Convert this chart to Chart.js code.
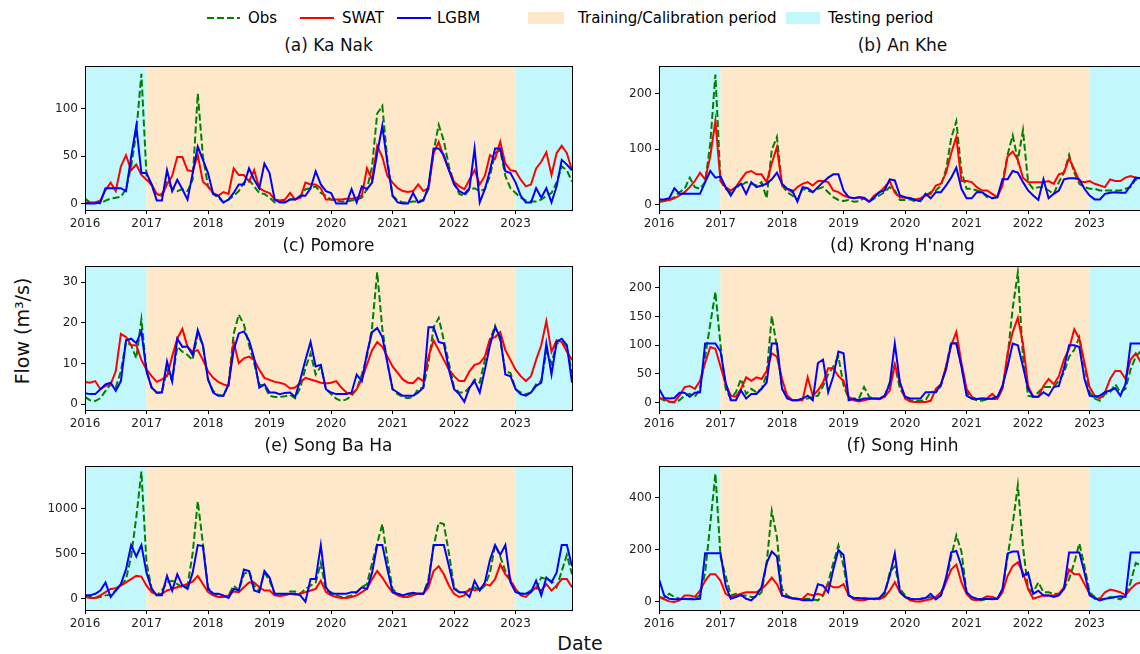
<!DOCTYPE html>
<html>
<head>
<meta charset="utf-8">
<script src="https://cdn.jsdelivr.net/npm/chart.js@4.4.0/dist/chart.umd.min.js"></script>
<style>
html, body { margin: 0; padding: 0; background: #fff; }
body { width: 1140px; height: 654px; overflow: hidden; position: relative; font-family: 'DejaVu Sans', sans-serif; color: #111; }
canvas { position: absolute; }
.title { position: absolute; font-size: 17px; line-height: 20px; transform: translateX(-50%); white-space: nowrap; }
.ylab { position: absolute; left: 22px; top: 331px; font-size: 19px; white-space: nowrap; transform: translate(-50%, -50%) rotate(-90deg); }
.xlab { position: absolute; left: 580px; top: 643px; font-size: 19px; white-space: nowrap; transform: translate(-50%, -50%); }
</style>
</head>
<body>
<svg width="1140" height="36" style="position:absolute;left:0;top:0" font-family="DejaVu Sans" font-size="15">
  <line x1="207" y1="18" x2="240" y2="18" stroke="#008000" stroke-width="2" stroke-dasharray="7,3"/>
  <text x="248" y="23">Obs</text>
  <line x1="300" y1="18" x2="334" y2="18" stroke="#ff0000" stroke-width="2"/>
  <text x="342" y="23">SWAT</text>
  <line x1="397" y1="18" x2="431" y2="18" stroke="#0000ff" stroke-width="2"/>
  <text x="437" y="23">LGBM</text>
  <rect x="528" y="12" width="36" height="12" fill="#fde8c9"/>
  <text x="578" y="23">Training/Calibration period</text>
  <rect x="786" y="12" width="34" height="12" fill="#c2f8fb"/>
  <text x="828" y="23">Testing period</text>
</svg>
<div class="ylab">Flow (m³/s)</div>
<div class="xlab">Date</div>

<script>
// monthly series Jan 2016 - Dec 2023
const firstYear = 2016;
const yearTicks = [2016, 2017, 2018, 2019, 2020, 2021, 2022, 2023];
const trainStart = 2017;
const trainEnd = 2023;

// (a) Ka Nak
const kaNakObs = [5,1,1,0,3,5,6,7,15,39,75,137, 29,18,8,10,22,16,13,15,13,25,116,50,
  18,10,6,1,4,8,13,22,25,18,11,10, 6,1,2,3,4,5,6,15,16,18,11,8,
  4,3,2,2,3,4,6,15,39,95,103,45, 8,3,1,1,2,2,4,15,55,83,66,39,
  22,10,8,15,16,13,15,29,53,56,29,16, 11,6,3,2,2,4,8,11,22,39,35,23];
const kaNakSwat = [1,1,1,3,14,22,13,39,51,35,41,30, 25,20,10,8,20,29,49,49,35,34,51,23,
  18,11,8,12,10,37,30,30,23,35,16,13, 11,4,3,4,11,4,6,22,20,20,16,4,
  4,4,4,5,5,6,8,37,25,61,49,29, 22,16,13,12,13,20,13,16,53,65,49,35,
  23,18,15,25,35,20,29,51,47,65,42,35, 34,25,18,20,37,44,54,30,53,61,53,35];
const kaNakLgbm = [0,0,0,1,16,16,16,16,13,49,82,32, 32,20,3,3,35,13,25,15,4,32,60,46,
  32,10,8,1,4,11,20,20,37,25,16,42, 32,4,1,1,4,4,8,8,16,34,20,13,
  11,0,0,0,15,1,18,15,22,53,82,42, 8,1,0,0,11,1,3,18,58,58,51,35,
  20,13,10,16,58,1,15,35,58,58,34,32, 22,8,1,1,16,6,16,1,18,46,41,35];
const kaNakTicks = [0, 50, 100];

// (b) An Khe
const anKheObs = [6,7,9,14,23,29,49,32,29,41,110,234, 43,29,23,32,35,41,38,35,41,12,99,122,
  35,23,17,9,29,26,23,29,32,23,14,9, 7,9,6,7,12,6,12,17,23,32,26,9,
  9,10,6,9,17,23,26,35,64,120,150,60, 29,29,26,23,14,12,14,41,90,125,80,134,
  41,29,32,32,26,20,41,58,90,58,38,32, 29,29,26,26,26,26,26,29,32,46,45,45];
const anKheSwat = [6,7,9,12,17,23,32,43,58,46,87,151, 43,32,26,32,46,58,61,55,55,41,75,104,
  35,29,23,32,38,41,35,43,43,41,26,23, 17,14,12,14,12,6,17,23,32,43,22,14,
  13,12,10,12,17,20,35,38,58,93,122,43, 43,41,32,26,26,20,14,35,87,96,81,49,
  41,41,41,41,43,38,55,58,84,64,43,41, 43,38,35,32,46,43,43,49,52,49,48,50];
const anKheLgbm = [10,10,12,30,20,20,20,20,20,41,61,49, 51,32,17,32,38,20,41,32,35,38,46,58,
  38,29,26,6,32,30,23,32,41,49,55,55, 26,14,12,14,13,6,14,23,26,46,44,17,
  14,12,9,7,20,12,23,23,35,49,67,29, 12,12,23,23,17,12,14,46,46,61,58,41,
  26,17,9,46,12,20,26,46,48,48,46,29, 17,10,10,20,22,23,22,22,35,49,48,48];
const anKheTicks = [0, 100, 200];

// (c) Pomore
const pomoreObs = [1.8,1.0,0.8,1.5,3.3,4.9,4.1,8.1,15.3,14.5,11.3,20.8, 8.1,4.1,2.8,2.9,8.5,5.7,14.1,12.9,12.1,10.9,17.3,14.5,
  6.1,3.3,2.3,2.1,4.9,17.3,22.0,19.6,14.5,10.1,4.9,4.5, 2.1,1.8,1.8,2.0,2.3,1.5,4.1,8.9,12.5,7.3,9.3,3.7,
  2.5,1.4,0.8,1.2,2.1,3.7,7.3,11.7,18.9,32.4,18.5,10.1, 3.7,2.5,1.8,1.5,1.8,3.7,4.1,10.1,18.9,21.2,15.7,10.1,
  4.1,2.9,2.9,4.1,6.1,5.3,10.9,15.7,19.3,15.7,8.1,7.7, 3.7,2.9,2.5,2.9,4.9,5.7,12.9,10.1,14.9,15.3,14.1,7.7];
const pomoreSwat = [5.5,5.3,5.7,3.7,4.5,4.9,8.1,17.3,16.5,14.5,14.5,10.9, 8.5,6.9,5.5,6.1,6.9,11.7,16.1,18.5,14.1,12.9,13.3,10.9,
  8.1,6.5,5.5,4.9,4.5,15.3,10.1,11.3,11.7,10.9,8.5,6.5, 6.0,5.5,5.3,4.9,3.9,4.1,5.3,6.5,6.1,5.7,5.3,5.1,
  5.3,5.7,4.1,2.9,2.5,3.7,6.1,9.7,13.3,15.3,14.1,11.7, 9.3,7.7,6.1,5.3,5.2,6.5,5.7,11.7,15.7,13.3,10.9,8.5,
  6.9,5.7,5.7,8.1,9.7,10.1,11.7,16.1,16.5,17.7,13.3,10.9, 8.5,6.9,5.7,6.9,10.9,14.5,20.4,12.9,15.7,15.3,12.9,10.9];
const pomoreLgbm = [2.7,2.5,2.5,3.7,4.9,5.3,3.3,5.7,15.7,16.1,15.0,17.9, 8.1,4.1,2.9,2.9,10.5,5.7,16.1,14.1,14.2,12.1,18.2,14.5,
  6.1,2.9,2.1,2.1,4.9,13.3,17.4,17.9,15.7,11.3,4.1,4.9, 2.9,2.9,2.5,2.8,2.9,1.8,6.1,10.9,15.3,9.3,9.7,3.7,
  2.9,2.5,2.5,2.5,2.9,7.3,5.7,12.5,17.7,18.7,16.5,10.1, 3.7,2.9,2.1,2.1,2.1,2.9,4.1,18.9,18.9,15.3,14.9,8.5,
  3.7,2.5,0.6,4.1,5.7,2.9,8.5,14.5,18.9,16.5,7.3,6.9, 3.7,2.5,2.1,2.9,4.5,5.3,14.9,7.3,15.3,16.1,14.5,5.3];
const pomoreTicks = [0, 10, 20, 30];

// (d) Krong H'nang
const krongObs = [8,4,1,0,4,12,15,10,24,80,137,193, 100,24,7,18,41,15,24,18,24,49,151,97,
  24,12,4,4,6,7,10,12,29,49,63,80, 30,7,7,7,27,10,6,6,10,35,66,24,
  10,4,3,3,4,19,18,29,63,106,103,63, 18,7,4,3,6,6,6,24,80,165,227,80,
  12,10,18,27,27,27,38,52,80,92,114,63, 18,7,3,15,18,32,18,24,58,80,90,95];
const krongSwat = [8,6,2,1,12,27,29,24,38,69,97,94, 63,32,12,10,24,44,38,44,41,55,86,80,
  41,12,4,4,4,44,12,21,35,60,60,46, 38,10,4,2,4,6,7,6,10,21,66,35,
  7,2,1,1,1,3,24,32,63,100,123,69, 24,10,6,7,7,15,7,24,86,123,148,103,
  29,10,10,29,41,32,46,75,94,128,111,69, 27,12,7,18,41,55,55,41,75,86,70,60];
const krongLgbm = [24,8,7,8,17,17,10,17,18,103,103,103, 89,35,4,4,21,7,15,15,24,35,103,103,
  24,7,4,4,7,12,4,69,75,18,46,89, 86,4,6,4,7,7,7,7,12,32,103,35,
  10,7,7,7,18,18,18,32,58,103,103,63, 12,7,6,7,6,7,10,29,63,103,100,63,
  24,10,10,18,12,27,29,60,100,100,97,41, 12,10,12,18,21,25,12,32,103,103,103,103];
const krongTicks = [0, 50, 100, 150, 200];

// (e) Song Ba Ha
const songBaHaObs = [18,18,7,18,36,43,90,144,217,469,902,1415, 397,108,36,90,180,199,162,126,144,505,1083,614,
  126,54,36,18,36,144,90,271,307,144,90,289, 199,54,36,43,79,79,54,108,144,180,397,90,
  72,36,18,18,36,72,126,162,397,614,830,433, 108,54,36,36,54,54,54,217,578,848,830,505,
  126,72,72,90,126,90,144,289,600,469,307,217, 90,54,54,90,108,235,217,199,126,307,487,271];
const songBaHaSwat = [18,7,7,36,72,108,116,144,180,217,253,245, 144,72,43,54,90,108,126,144,162,188,253,162,
  72,36,18,18,36,79,72,126,180,180,126,90, 90,36,29,36,54,43,54,72,90,108,199,72,
  36,18,7,7,18,36,72,108,217,307,235,144, 72,36,18,18,36,54,54,126,307,361,271,144,
  54,18,36,108,90,108,162,144,217,379,271,199, 108,36,18,72,126,90,162,90,144,217,217,126];
const songBaHaLgbm = [36,36,54,90,180,18,90,162,325,596,469,596, 289,108,36,36,253,90,271,144,108,289,596,585,
  108,54,54,36,7,108,90,325,307,90,72,307, 235,54,54,54,54,54,36,-36,217,217,596,126,
  54,54,54,54,72,72,126,108,289,596,596,325, 72,54,36,54,65,54,54,180,596,596,596,361,
  108,72,72,18,199,90,180,433,596,487,596,180, 72,54,54,72,199,36,235,180,289,596,596,361];
const songBaHaTicks = [0, 500, 1000];

// (f) Song Hinh
const songHinhObs = [19,15,31,19,12,10,12,12,25,112,298,491, 174,99,25,31,25,25,19,19,37,149,348,248,
  50,25,12,12,10,12,10,6,25,75,149,217, 137,25,12,12,15,12,10,12,25,112,137,50,
  25,12,10,10,15,19,15,25,75,174,255,193, 37,12,6,6,12,12,10,37,174,298,447,211,
  50,37,75,37,37,31,31,50,87,149,224,137, 37,19,12,10,19,15,10,25,75,149,140,100];
const songHinhSwat = [19,10,2,0,6,25,25,19,43,81,106,106, 81,31,19,25,31,37,37,37,50,68,93,68,
  25,19,12,10,12,31,25,31,25,68,56,56, 68,25,10,6,6,12,12,10,19,43,75,37,
  19,6,2,2,6,10,19,37,75,124,143,75, 31,10,6,12,22,19,12,37,99,137,152,112,
  50,12,19,25,25,25,31,56,124,106,106,68, 31,12,12,37,47,43,37,25,50,68,75,75];
const songHinhLgbm = [87,25,12,10,10,12,10,10,12,186,186,186, 186,62,12,19,27,12,6,25,56,149,193,174,
  25,19,15,12,6,6,6,68,62,37,124,199, 180,25,15,15,12,12,12,15,37,99,186,37,
  19,12,10,12,15,31,10,25,93,190,195,137, 37,19,12,10,12,10,12,50,186,193,193,99,
  112,31,43,25,25,19,25,50,189,189,189,112, 25,15,6,12,15,19,22,19,189,189,189,189];
const songHinhTicks = [0, 200, 400];

const trainColor = '#fde8c9';
const testColor = '#c2f8fb';

const plotW = 487, plotH = 148;
const padL = 60, padR = 8, padT = 6, padB = 26;

const panels = [
  { title: '(a) Ka Nak', obs: kaNakObs, swat: kaNakSwat, lgbm: kaNakLgbm, ticks: kaNakTicks, yMin: -7, yMax: 145, left: 85, top: 62 },
  { title: '(b) An Khe', obs: anKheObs, swat: anKheSwat, lgbm: anKheLgbm, ticks: anKheTicks, yMin: -9, yMax: 249, left: 659, top: 62 },
  { title: '(c) Pomore', obs: pomoreObs, swat: pomoreSwat, lgbm: pomoreLgbm, ticks: pomoreTicks, yMin: -1.4, yMax: 33.9, left: 85, top: 262 },
  { title: "(d) Krong H'nang", obs: krongObs, swat: krongSwat, lgbm: krongLgbm, ticks: krongTicks, yMin: -13, yMax: 238, left: 659, top: 262 },
  { title: '(e) Song Ba Ha', obs: songBaHaObs, swat: songBaHaSwat, lgbm: songBaHaLgbm, ticks: songBaHaTicks, yMin: -127, yMax: 1475, left: 85, top: 462 },
  { title: '(f) Song Hinh', obs: songHinhObs, swat: songHinhSwat, lgbm: songHinhLgbm, ticks: songHinhTicks, yMin: -31, yMax: 520, left: 659, top: 462 }
];

Chart.defaults.font.family = "'DejaVu Sans', sans-serif";

// background periods + axes box
const periodShading = {
    id: 'periodShading',
    beforeDatasetsDraw(chart) {
        const { ctx, chartArea: a, scales: { x } } = chart;
        const x1 = x.getPixelForValue(trainStart);
        const x2 = x.getPixelForValue(trainEnd);
        const h = a.bottom - a.top;
        ctx.save();
        ctx.fillStyle = testColor;
        ctx.fillRect(a.left, a.top, x1 - a.left, h);
        ctx.fillStyle = trainColor;
        ctx.fillRect(x1, a.top, x2 - x1, h);
        ctx.fillStyle = testColor;
        ctx.fillRect(x2, a.top, a.right - x2, h);
        ctx.restore();
    },
    afterDatasetsDraw(chart) {
        const { ctx, chartArea: a } = chart;
        ctx.save();
        ctx.strokeStyle = '#000';
        ctx.lineWidth = 1;
        ctx.strokeRect(Math.round(a.left) + 0.5, Math.round(a.top) + 0.5, Math.round(a.right - a.left), Math.round(a.bottom - a.top));
        ctx.restore();
    }
};

function toPoints(values) {
    return values.map((v, i) => ({ x: firstYear + i / 12, y: v }));
}

function makeChart(p) {
    const w = padL + plotW + padR;
    const h = padT + plotH + padB;
    const canvas = document.createElement('canvas');
    canvas.width = w;
    canvas.height = h;
    canvas.style.width = w + 'px';
    canvas.style.height = h + 'px';
    canvas.style.left = (p.left - padL) + 'px';
    canvas.style.top = (p.top - padT) + 'px';
    document.body.appendChild(canvas);

    const title = document.createElement('div');
    title.className = 'title';
    title.textContent = p.title;
    title.style.left = (p.left + plotW / 2) + 'px';
    title.style.top = (p.top - 27) + 'px';
    document.body.appendChild(title);

    const n = p.obs.length;
    new Chart(canvas, {
        type: 'line',
        data: {
            datasets: [
                { label: 'Obs', data: toPoints(p.obs), borderColor: '#008000', borderDash: [7, 3], borderWidth: 2, order: 3 },
                { label: 'SWAT', data: toPoints(p.swat), borderColor: '#ff0000', borderWidth: 2, order: 2 },
                { label: 'LGBM', data: toPoints(p.lgbm), borderColor: '#0000ff', borderWidth: 2, order: 1 }
            ]
        },
        options: {
            responsive: false,
            animation: false,
            devicePixelRatio: 1,
            layout: { padding: { left: 0, right: padR, top: padT, bottom: 0 } },
            elements: { point: { radius: 0 }, line: { tension: 0 } },
            plugins: { legend: { display: false }, tooltip: { enabled: false } },
            scales: {
                x: {
                    type: 'linear',
                    min: firstYear,
                    max: firstYear + (n - 1) / 12,
                    afterBuildTicks: s => { s.ticks = yearTicks.map(v => ({ value: v })); },
                    afterFit: s => { s.height = padB; },
                    ticks: { autoSkip: false, maxRotation: 0, padding: 3, color: '#222', font: { size: 12 }, callback: v => String(v) },
                    grid: { drawOnChartArea: false, tickLength: 4, color: '#000' },
                    border: { display: false }
                },
                y: {
                    min: p.yMin,
                    max: p.yMax,
                    afterBuildTicks: s => { s.ticks = p.ticks.map(v => ({ value: v })); },
                    afterFit: s => { s.width = padL; },
                    ticks: { padding: 3, color: '#222', font: { size: 12 }, callback: v => String(v) },
                    grid: { drawOnChartArea: false, tickLength: 4, color: '#000' },
                    border: { display: false }
                }
            }
        },
        plugins: [periodShading]
    });
}

panels.forEach(makeChart);
</script>
</body>
</html>
